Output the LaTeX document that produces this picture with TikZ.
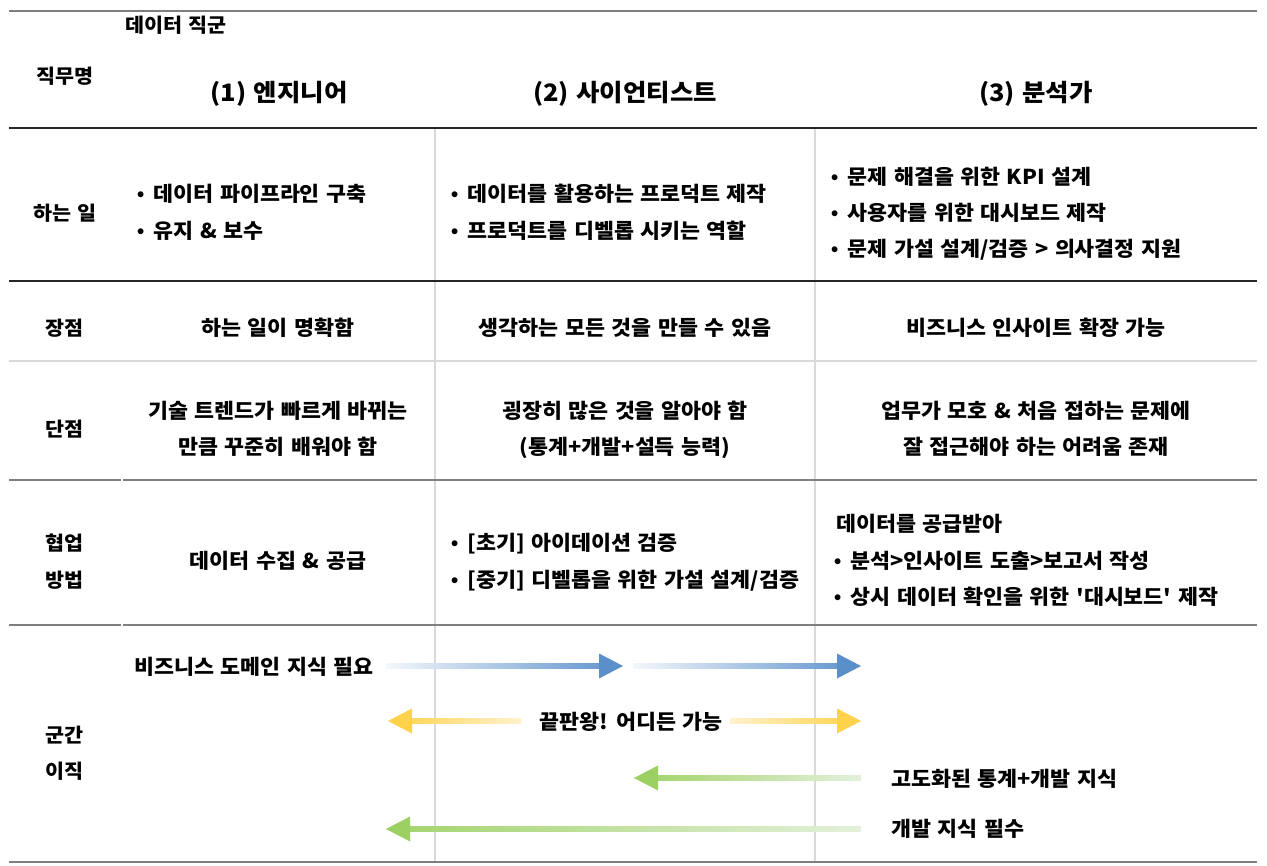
\documentclass[tikz,border=0pt]{standalone}
\usepackage{fontspec}
\setmainfont{Noto Sans CJK KR}[FakeStretch=1.06, WordSpace=1.3, Ligatures=TeXOff]
\newfontfamily\bulfont{Liberation Sans}
\usetikzlibrary{calc}
\definecolor{lnGray}{HTML}{7F7F7F}
\definecolor{lnDark}{HTML}{262626}
\definecolor{lnLight}{HTML}{D9D9D9}
\definecolor{blueHead}{HTML}{5B8FC9}
\definecolor{blueNear}{HTML}{6A9BD1}
\definecolor{blueFar}{HTML}{F4F7FB}
\definecolor{yelHead}{HTML}{FFD24C}
\definecolor{yelNear}{HTML}{FFD75E}
\definecolor{yelFar}{HTML}{FFF2CC}
\definecolor{grnHead}{HTML}{9DD063}
\definecolor{grnNear}{HTML}{A6D571}
\definecolor{grnFar}{HTML}{E3F0DA}
\newcommand{\bl}{{\bulfont\textbullet}\hspace{0.45em}}
\begin{document}
\begin{tikzpicture}[x=1pt,y=-1pt,
  font=\bfseries\fontsize{20.5}{24}\selectfont,
  txt/.style={inner sep=0pt, text height=0.8em, text depth=0.1em, yshift=-5pt},
  hdr/.style={txt, font=\bfseries\fontsize{24}{28}\selectfont, yshift=-1pt},
  small/.style={txt, font=\bfseries\fontsize{19.5}{23}\selectfont},
  lineG/.style={draw=lnGray, line width=1.6pt},
  lineD/.style={draw=lnDark, line width=1.3pt},
  lineL/.style={draw=lnLight, line width=1.8pt},
  vline/.style={draw=lnLight, line width=1.5pt}]
\useasboundingbox (0,0) rectangle (1267,866);
\fill[white] (0,0) rectangle (1267,866);

% vertical separators
\draw[vline] (435,128) -- (435,862);
\draw[vline] (815,128) -- (815,862);

% horizontal rules
\draw[lineG] (9,11) -- (1257,11);
\draw[lineD] (9,128) -- (1257,128);
\draw[lineD] (9,281) -- (1257,281);
\draw[lineL] (9,361) -- (1257,361);
\draw[lineG] (9,480) -- (121,480);
\draw[lineG] (123,480) -- (1257,480);
\draw[lineG] (9,625) -- (121,625);
\draw[lineG] (123,625) -- (1257,625);
\draw[lineG] (9,862) -- (1257,862);

% header
\node[small, anchor=west] (grp) at (125,24) {데이터 직군};
\node[small] (lJob) at (65,75) {직무명};
\node[hdr] (h1) at (279,92) {(1) 엔지니어};
\node[hdr] (h2) at (625,92) {(2) 사이언티스트};
\node[hdr] (h3) at (1036,92) {(3) 분석가};

% row labels
\node[small] (lWork) at (65,212) {하는 일};
\node[small] (lPro) at (65,327) {장점};
\node[small] (lCon) at (65,428) {단점};
\node[small] (lCo1) at (65,542) {협업};
\node[small] (lCo2) at (65,579) {방법};
\node[small] (lMv1) at (65,734) {군간};
\node[small] (lMv2) at (65,770) {이직};

% what they do
\node[txt, anchor=west] (w11) at (137,193) {\bl 데이터 파이프라인 구축};
\node[txt, anchor=west] (w12) at (137,230) {\bl 유지 \& 보수};
\node[txt, anchor=west] (w21) at (451,193) {\bl 데이터를 활용하는 프로덕트 제작};
\node[txt, anchor=west] (w22) at (451,230) {\bl 프로덕트를 디벨롭 시키는 역할};
\node[txt, anchor=west] (w31) at (831,176) {\bl 문제 해결을 위한 KPI 설계};
\node[txt, anchor=west] (w32) at (831,212) {\bl 사용자를 위한 대시보드 제작};
\node[txt, anchor=west] (w33) at (831,248) {\bl 문제 가설 설계/검증 > 의사결정 지원};

% pros
\node[txt] (p1) at (278,327) {하는 일이 명확함};
\node[txt] (p2) at (625,327) {생각하는 모든 것을 만들 수 있음};
\node[txt] (p3) at (1036,327) {비즈니스 인사이트 확장 가능};

% cons
\node[txt] (c11) at (278,410) {기술 트렌드가 빠르게 바뀌는};
\node[txt] (c12) at (278,446) {만큼 꾸준히 배워야 함};
\node[txt] (c21) at (625,410) {굉장히 많은 것을 알아야 함};
\node[txt] (c22) at (625,446) {(통계+개발+설득 능력)};
\node[txt] (c31) at (1036,410) {업무가 모호 \& 처음 접하는 문제에};
\node[txt] (c32) at (1036,446) {잘 접근해야 하는 어려움 존재};

% collaboration
\node[txt] (k1) at (278,560) {데이터 수집 \& 공급};
\node[txt, anchor=west] (k21) at (451,542) {\bl [초기] 아이데이션 검증};
\node[txt, anchor=west] (k22) at (451,579) {\bl [중기] 디벨롭을 위한 가설 설계/검증};
\node[txt, anchor=west] (k30) at (836,523) {데이터를 공급받아};
\node[txt, anchor=west] (k31) at (834,560) {\bl 분석>인사이트 도출>보고서 작성};
\node[txt, anchor=west] (k32) at (834,596) {\bl 상시 데이터 확인을 위한 '대시보드' 제작};

% mobility labels
\node[txt, anchor=east] (m1) at (374,666) {비즈니스 도메인 지식 필요};
\node[txt] (m2) at (631,721) {끝판왕! 어디든 가능};
\node[txt, anchor=west] (m3) at (891,778) {고도화된 통계+개발 지식};
\node[txt, anchor=west] (m4) at (891,828) {개발 지식 필수};

% arrow end points
\coordinate (b1s) at (386,666); \coordinate (b1e) at (623,666);
\coordinate (b2s) at (633,666); \coordinate (b2e) at (861,666);
\coordinate (y1s) at (521,721); \coordinate (y1e) at (388,721);
\coordinate (y2s) at (730,721); \coordinate (y2e) at (861,721);
\coordinate (g1s) at (861,778); \coordinate (g1e) at (634,778);
\coordinate (g2s) at (861,829); \coordinate (g2e) at (386,829);

% right-pointing arrows
\shade[left color=blueFar, right color=blueNear] ($(b1s)+(0,-2.7)$) rectangle ($(b1e)+(-23,2.7)$);
\fill[blueHead] ($(b1e)+(-24,-12.5)$) -- (b1e) -- ($(b1e)+(-24,12.5)$) -- cycle;
\shade[left color=blueFar, right color=blueNear] ($(b2s)+(0,-2.7)$) rectangle ($(b2e)+(-23,2.7)$);
\fill[blueHead] ($(b2e)+(-24,-12.5)$) -- (b2e) -- ($(b2e)+(-24,12.5)$) -- cycle;
\shade[left color=yelFar, right color=yelNear] ($(y2s)+(0,-2.7)$) rectangle ($(y2e)+(-23,2.7)$);
\fill[yelHead] ($(y2e)+(-24,-12.5)$) -- (y2e) -- ($(y2e)+(-24,12.5)$) -- cycle;

% left-pointing arrows
\shade[left color=yelNear, right color=yelFar] ($(y1e)+(23,-2.7)$) rectangle ($(y1s)+(0,2.7)$);
\fill[yelHead] ($(y1e)+(24,-12.5)$) -- (y1e) -- ($(y1e)+(24,12.5)$) -- cycle;
\shade[left color=grnNear, right color=grnFar] ($(g1e)+(23,-2.7)$) rectangle ($(g1s)+(0,2.7)$);
\fill[grnHead] ($(g1e)+(24,-12.5)$) -- (g1e) -- ($(g1e)+(24,12.5)$) -- cycle;
\shade[left color=grnNear, right color=grnFar] ($(g2e)+(23,-2.7)$) rectangle ($(g2s)+(0,2.7)$);
\fill[grnHead] ($(g2e)+(24,-12.5)$) -- (g2e) -- ($(g2e)+(24,12.5)$) -- cycle;
\end{tikzpicture}
\end{document}
